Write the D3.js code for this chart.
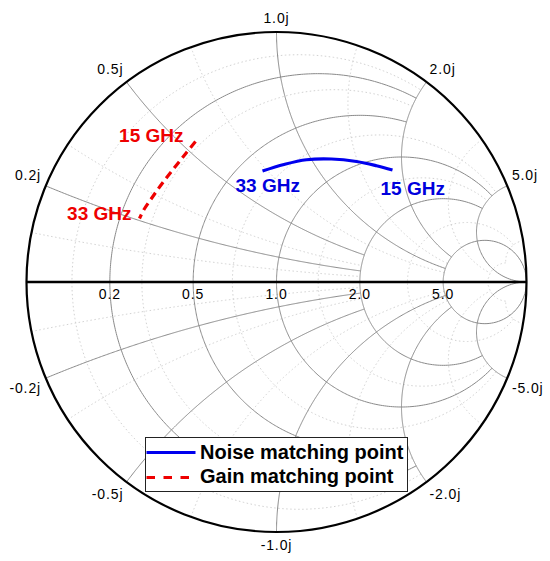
<!DOCTYPE html>
<html>
<head>
<meta charset="utf-8">
<script src="https://d3js.org/d3.v7.min.js"></script>
<style>
  body { margin: 0; background: #fff; }
  text { font-family: "Liberation Sans", Arial, sans-serif; }
</style>
</head>
<body>
<svg id="chart" width="550" height="561"></svg>
<script>
// grid values (normalized impedance), and where each line stops
var majorValues = [0.2, 0.5, 1.0, 2.0, 5.0];
var majorStops  = [2, 2, 5, 5, Infinity];
var minorValues = [0.1, 0.3, 0.7, 1.4, 3.2, 12];
var minorStops  = [2, 2, 5, 5, 12, 12];
var realLabels  = ["0.2", "0.5", "1.0", "2.0", "5.0"];
var imagLabels  = ["0.2j", "0.5j", "1.0j", "2.0j", "5.0j"];

// reflection coefficient, 15 GHz -> 33 GHz
var noiseRe = [0.464, 0.40, 0.32, 0.22, 0.12, 0.03, -0.056];
var noiseIm = [0.448, 0.465, 0.482, 0.492, 0.489, 0.47, 0.444];
var gainRe  = [-0.324, -0.366, -0.414, -0.456, -0.496, -0.53, -0.548];
var gainIm  = [0.562, 0.51, 0.45, 0.396, 0.34, 0.29, 0.254];
var freqLabels = ["15 GHz", "33 GHz"];

var cx = 276.5, cy = 282, R = 250;
var svg = d3.select("#chart");

var x = d3.scaleLinear().domain([-1, 1]).range([cx - R, cx + R]);
var y = d3.scaleLinear().domain([-1, 1]).range([cy + R, cy - R]);

function gamma(r, xx) {
  var den = (r + 1) * (r + 1) + xx * xx;
  return [(r * r + xx * xx - 1) / den, 2 * xx / den];
}
var line = d3.line().x(function(d) { return x(d[0]); }).y(function(d) { return y(d[1]); });

// constant resistance circle r, between reactance -stop and +stop
function rCircle(r, stop) {
  var a = Math.atan(stop), pts = [];
  for (var i = 0; i <= 400; i++) {
    var p = -a + 2 * a * i / 400;
    pts.push(gamma(r, Math.tan(p)));
  }
  return pts;
}
// constant reactance arc xx, from r=0 to r=stop
function xArc(xx, stop) {
  var a = Math.atan(stop), pts = [];
  for (var i = 0; i <= 300; i++) {
    pts.push(gamma(Math.tan(a * i / 300), xx));
  }
  return pts;
}

function drawGrid(vals, stops, cls, stroke, dash) {
  var g = svg.append("g").attr("class", cls)
    .attr("fill", "none").attr("stroke", stroke).attr("stroke-width", 1);
  if (dash) g.attr("stroke-dasharray", dash);
  vals.forEach(function(v, i) {
    g.append("path").attr("d", line(rCircle(v, stops[i])));
    g.append("path").attr("d", line(xArc(v, stops[i])));
    g.append("path").attr("d", line(xArc(-v, stops[i])));
  });
}
drawGrid(minorValues, minorStops, "minor", "#d2d2d2", "1.5,2.5");
drawGrid(majorValues, majorStops, "major", "#8a8a8a", null);

// outer circle and real axis
svg.append("circle").attr("cx", x(0)).attr("cy", y(0)).attr("r", x(1) - x(0))
  .attr("fill", "none").attr("stroke", "#000").attr("stroke-width", 2.2);
svg.append("line").attr("x1", x(-1)).attr("x2", x(1)).attr("y1", y(0)).attr("y2", y(0))
  .attr("stroke", "#000").attr("stroke-width", 2.4);

// labels
var lab = svg.append("g").attr("font-size", 14).attr("letter-spacing", 0.9).attr("fill", "#000");
majorValues.forEach(function(v, i) {
  lab.append("text").attr("x", x((v - 1) / (v + 1))).attr("y", y(0) + 17)
    .attr("text-anchor", "middle").text(realLabels[i]);
  [1, -1].forEach(function(s) {
    var gm = gamma(0, s * v);
    var ang = Math.atan2(gm[1], gm[0]);
    var px = x(0) + (R + 5) * Math.cos(ang);
    var py = y(0) - (R + 5) * Math.sin(ang);
    var c = Math.cos(ang);
    lab.append("text")
      .attr("x", px)
      .attr("y", s > 0 ? py - 4 : py + 13)
      .attr("text-anchor", c < -0.3 ? "end" : (c > 0.3 ? "start" : "middle"))
      .text((s > 0 ? "" : "-") + imagLabels[i]);
  });
});

// data curves
function pts(re, im) { return re.map(function(d, i) { return [d, im[i]]; }); }
var noise = pts(noiseRe, noiseIm), gain = pts(gainRe, gainIm);
svg.append("path").attr("d", line.curve(d3.curveCatmullRom)(noise))
  .attr("fill", "none").attr("stroke", "#0000ee").attr("stroke-width", 3.2);
svg.append("path").attr("d", line.curve(d3.curveCatmullRom)(gain))
  .attr("fill", "none").attr("stroke", "#ee0000").attr("stroke-width", 3.2)
  .attr("stroke-dasharray", "8,5");

var fl = svg.append("g").attr("font-size", 19).attr("font-weight", "bold");
var n0 = noise[0], n1 = noise[noise.length - 1], g0 = gain[0], g1 = gain[gain.length - 1];
fl.append("text").attr("fill", "#ee0000").attr("x", x(g0[0]) - 12).attr("y", y(g0[1]))
  .attr("text-anchor", "end").text(freqLabels[0]);
fl.append("text").attr("fill", "#ee0000").attr("x", x(g1[0]) - 8).attr("y", y(g1[1]) + 1)
  .attr("text-anchor", "end").text(freqLabels[1]);
fl.append("text").attr("fill", "#0000dd").attr("x", x(n0[0]) - 12).attr("y", y(n0[1]) + 25)
  .text(freqLabels[0]);
fl.append("text").attr("fill", "#0000dd").attr("x", x(n1[0]) - 27).attr("y", y(n1[1]) + 21)
  .text(freqLabels[1]);

// legend
var lg = svg.append("g").attr("transform", "translate(145.5,437.5)");
lg.append("rect").attr("width", 262).attr("height", 54)
  .attr("fill", "#fff").attr("stroke", "#222").attr("stroke-width", 1);
lg.append("line").attr("x1", 1).attr("x2", 50).attr("y1", 15).attr("y2", 15)
  .attr("stroke", "#0000ee").attr("stroke-width", 3.2);
lg.append("line").attr("x1", 1).attr("x2", 50).attr("y1", 40).attr("y2", 40)
  .attr("stroke", "#ee0000").attr("stroke-width", 3.2).attr("stroke-dasharray", "8.5,8.5");
lg.append("text").attr("x", 54.5).attr("y", 21.5).attr("font-size", 20).attr("font-weight", "bold")
  .text("Noise matching point");
lg.append("text").attr("x", 54.5).attr("y", 45.5).attr("font-size", 20).attr("font-weight", "bold")
  .text("Gain matching point");
</script>
</body>
</html>
